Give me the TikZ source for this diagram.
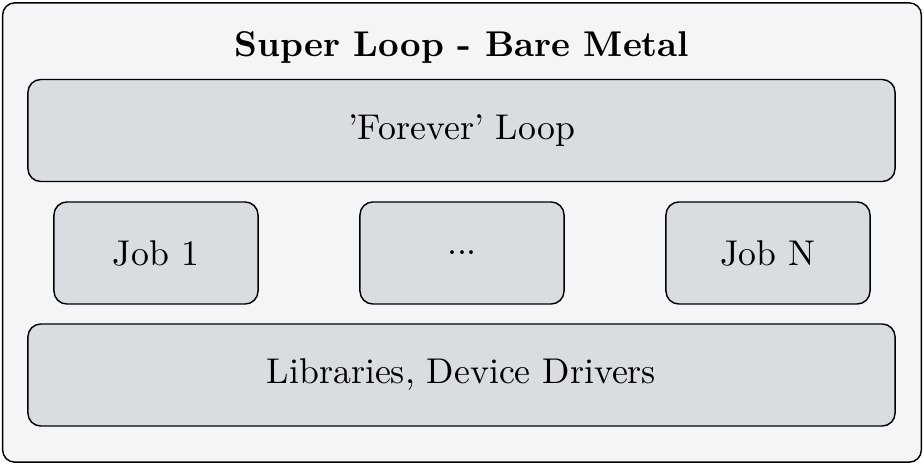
\documentclass[tikz,border=0pt]{standalone}
\definecolor{outerfill}{RGB}{244,245,247}
\definecolor{boxfill}{RGB}{217,221,225}
\tikzset{
  layer/.style={draw, fill=boxfill, rounded corners=3.6pt, inner sep=0pt,
    minimum height=28.5pt},
  wide/.style={layer, minimum width=242.2pt},
  job/.style={layer, minimum width=57pt}
}
\begin{document}
\begin{tikzpicture}[x=0.2793pt, y=-0.2793pt]
    \useasboundingbox (0,0) rectangle (924,465);

    % Outer frame and title
    \node[draw, fill=outerfill, rounded corners=3.4pt, minimum width=256.6pt,
      minimum height=128.3pt, inner sep=0pt] (frame) at (462,232.5) {};
    \node (title) at (462,47) {\textbf{Super Loop - Bare Metal}};

    % Top layer
    \node[wide] (loop) at (461.5,130.5) {'Forever' Loop};

    % Middle row of jobs
    \node[job] (job1) at (156,253) {Job 1};
    \node[job] (jobdots) at (462,253) {...};
    \node[job] (jobN) at (768,253) {Job N};

    % Bottom layer
    \node[wide] (libs) at (461.5,375) {Libraries, Device Drivers};
  \end{tikzpicture}
\end{document}
